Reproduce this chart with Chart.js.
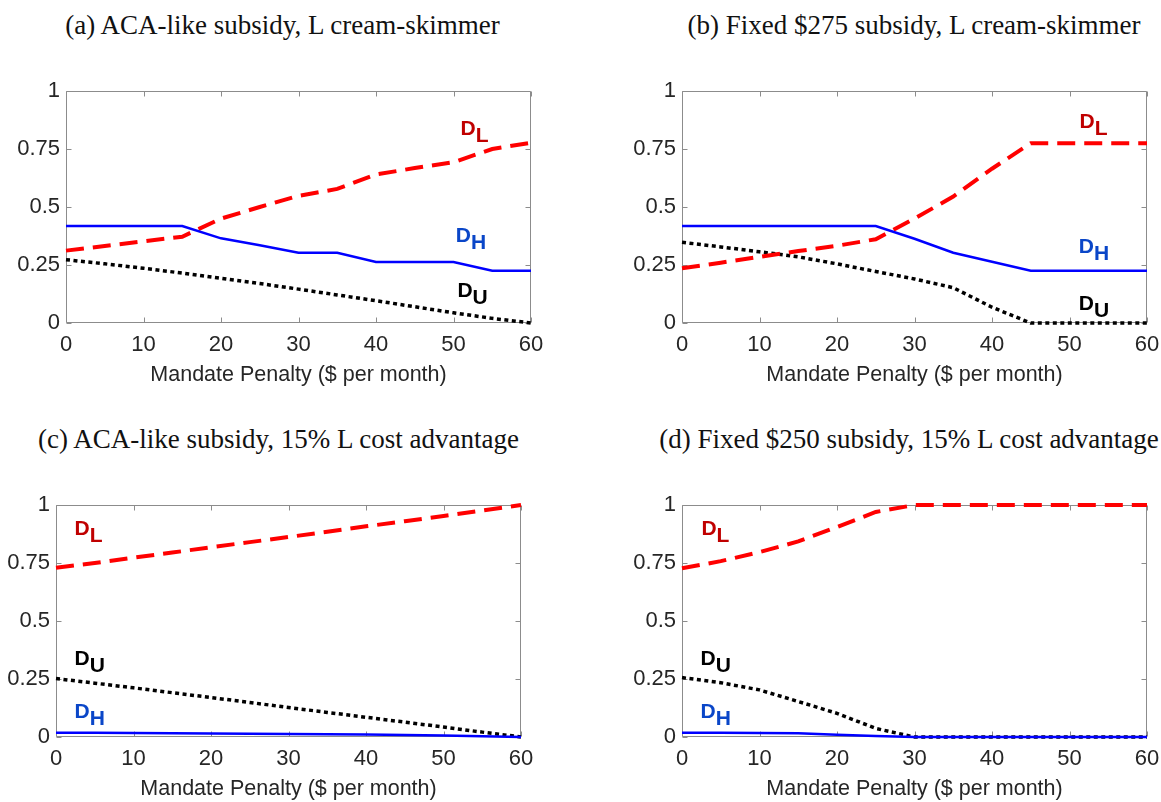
<!DOCTYPE html>
<html>
<head>
<meta charset="utf-8">
<script src="https://cdn.jsdelivr.net/npm/chart.js@4.4.0/dist/chart.umd.min.js"></script>
<style>
  html, body { margin: 0; padding: 0; background: #fff; width: 1161px; height: 802px; overflow: hidden; }
  canvas { position: absolute; }
  .ttl { position: absolute; font-family: "Liberation Serif", serif; font-size: 27px; line-height: 1;
         color: #111; white-space: nowrap; transform: translateX(-50%); }
</style>
</head>
<body>
<script>
// Mandate penalty grid ($ per month) and axis ticks
const penalty = [0, 5, 10, 15, 20, 25, 30, 35, 40, 45, 50, 55, 60];
const xTickValues = [0, 10, 20, 30, 40, 50, 60];
const yTickValues = [0, 0.25, 0.5, 0.75, 1];
const yTickText = ['0', '0.25', '0.5', '0.75', '1'];

const panelTitles = [
  '(a) ACA-like subsidy, L cream-skimmer',
  '(b) Fixed $275 subsidy, L cream-skimmer',
  '(c) ACA-like subsidy, 15% L cost advantage',
  '(d) Fixed $250 subsidy, 15% L cost advantage'
];
const xAxisTitle = 'Mandate Penalty ($ per month)';

// (a) ACA-like subsidy, L cream-skimmer
const aShareL = [0.312, 0.332, 0.352, 0.372, 0.450, 0.500, 0.548, 0.578, 0.640, 0.668, 0.693, 0.750, 0.777];
const aShareH = [0.418, 0.418, 0.418, 0.418, 0.365, 0.335, 0.303, 0.303, 0.263, 0.263, 0.263, 0.225, 0.225];
const aShareU = [0.273, 0.255, 0.236, 0.215, 0.193, 0.170, 0.146, 0.121, 0.096, 0.070, 0.044, 0.020, 0.000];

// (b) Fixed $275 subsidy, L cream-skimmer
const bShareL = [0.236, 0.260, 0.285, 0.310, 0.333, 0.361, 0.450, 0.545, 0.665, 0.775, 0.775, 0.775, 0.775];
const bShareH = [0.418, 0.418, 0.418, 0.418, 0.418, 0.418, 0.363, 0.303, 0.264, 0.225, 0.225, 0.225, 0.225];
const bShareU = [0.348, 0.328, 0.307, 0.285, 0.255, 0.222, 0.190, 0.152, 0.068, 0.000, 0.000, 0.000, 0.000];

// (c) ACA-like subsidy, 15% L cost advantage
const cShareL = [0.730, 0.750, 0.773, 0.795, 0.818, 0.840, 0.862, 0.885, 0.908, 0.930, 0.953, 0.976, 1.000];
const cShareH = [0.018, 0.018, 0.017, 0.016, 0.015, 0.014, 0.013, 0.012, 0.011, 0.009, 0.006, 0.003, 0.000];
const cShareU = [0.252, 0.232, 0.212, 0.191, 0.170, 0.149, 0.127, 0.106, 0.085, 0.064, 0.043, 0.021, 0.000];

// (d) Fixed $250 subsidy, 15% L cost advantage
const dShareL = [0.727, 0.758, 0.797, 0.843, 0.905, 0.970, 1.000, 1.000, 1.000, 1.000, 1.000, 1.000, 1.000];
const dShareH = [0.018, 0.018, 0.017, 0.016, 0.010, 0.004, 0.000, 0.000, 0.000, 0.000, 0.000, 0.000, 0.000];
const dShareU = [0.256, 0.234, 0.203, 0.153, 0.102, 0.037, 0.000, 0.000, 0.000, 0.000, 0.000, 0.000, 0.000];

const colL = '#ff0000', colH = '#0000ff', colU = '#000000';
const txtL = '#c00000', txtH = '#0a46c8', txtU = '#000000';

// Page placement of each plot box and its curve labels (label anchors in data units)
const panels = [
  { title: panelTitles[0], L: aShareL, H: aShareH, U: aShareU, left: 66, top: 91, titleX: 282.5, titleTop: 12,
    labels: [{ x: 50.9, y: 0.810, sub: 'L', color: txtL }, { x: 50.3, y: 0.349, sub: 'H', color: txtH }, { x: 50.5, y: 0.112, sub: 'U', color: txtU }] },
  { title: panelTitles[1], L: bShareL, H: bShareH, U: bShareU, left: 682, top: 91, titleX: 914, titleTop: 12,
    labels: [{ x: 51.3, y: 0.840, sub: 'L', color: txtL }, { x: 51.2, y: 0.302, sub: 'H', color: txtH }, { x: 51.2, y: 0.056, sub: 'U', color: txtU }] },
  { title: panelTitles[2], L: cShareL, H: cShareH, U: cShareU, left: 56, top: 505, titleX: 278.5, titleTop: 426,
    labels: [{ x: 2.4, y: 0.871, sub: 'L', color: txtL }, { x: 2.4, y: 0.310, sub: 'U', color: txtU }, { x: 2.4, y: 0.082, sub: 'H', color: txtH }] },
  { title: panelTitles[3], L: dShareL, H: dShareH, U: dShareU, left: 682, top: 505, titleX: 909, titleTop: 426,
    labels: [{ x: 2.5, y: 0.871, sub: 'L', color: txtL }, { x: 2.4, y: 0.310, sub: 'U', color: txtU }, { x: 2.4, y: 0.082, sub: 'H', color: txtH }] }
];

// Box around the plot area with inward tick marks on all four sides
const frame = {
  id: 'frame',
  beforeDatasetsDraw(chart) {
    const { ctx, chartArea: a, scales: { x, y } } = chart;
    const l = Math.round(a.left) + 0.5, r = Math.round(a.right) - 0.5;
    const t = Math.round(a.top) + 0.5, b = Math.round(a.bottom) - 0.5;
    const tl = 5;
    ctx.save();
    ctx.strokeStyle = '#8c8c8c';
    ctx.lineWidth = 1;
    ctx.beginPath();
    ctx.rect(l, t, r - l, b - t);
    xTickValues.forEach(v => {
      const px = Math.round(x.getPixelForValue(v)) + 0.5;
      ctx.moveTo(px, b); ctx.lineTo(px, b - tl);
      ctx.moveTo(px, t); ctx.lineTo(px, t + tl);
    });
    yTickValues.forEach(v => {
      const py = Math.round(y.getPixelForValue(v)) + 0.5;
      ctx.moveTo(l, py); ctx.lineTo(l + tl, py);
      ctx.moveTo(r, py); ctx.lineTo(r - tl, py);
    });
    ctx.stroke();
    ctx.restore();
  }
};

// Curve names D with a subscript letter
const curveLabels = {
  id: 'curveLabels',
  afterDatasetsDraw(chart, args, opts) {
    const { ctx, scales: { x, y } } = chart;
    ctx.save();
    ctx.font = 'bold 21px "Liberation Sans", Arial, sans-serif';
    ctx.textAlign = 'left';
    ctx.textBaseline = 'alphabetic';
    (opts.items || []).forEach(it => {
      const px = x.getPixelForValue(it.x), py = y.getPixelForValue(it.y);
      ctx.fillStyle = it.color;
      ctx.fillText('D', px, py);
      const w = ctx.measureText('D').width;
      ctx.fillText(it.sub, px + w, py + 7);
    });
    ctx.restore();
  }
};

const Y_AXIS_W = 66, PAD_TOP = 20, PAD_RIGHT = 40, X_AXIS_H = 70;
const PLOT_W = 465, PLOT_H = 232;

function series(vals, color, width, dash) {
  return {
    data: penalty.map((p, i) => ({ x: p, y: vals[i] })),
    borderColor: color, borderWidth: width, borderDash: dash,
    pointRadius: 0, tension: 0, fill: false, clip: false,
    borderCapStyle: 'butt', borderJoinStyle: 'miter'
  };
}

panels.forEach(p => {
  const t = document.createElement('div');
  t.className = 'ttl';
  t.textContent = p.title;
  t.style.left = p.titleX + 'px';
  t.style.top = p.titleTop + 'px';
  document.body.appendChild(t);

  const cv = document.createElement('canvas');
  cv.width = Y_AXIS_W + PLOT_W + PAD_RIGHT;
  cv.height = PAD_TOP + PLOT_H + X_AXIS_H;
  cv.style.width = cv.width + 'px';
  cv.style.height = cv.height + 'px';
  cv.style.left = (p.left - Y_AXIS_W) + 'px';
  cv.style.top = (p.top - PAD_TOP) + 'px';
  document.body.appendChild(cv);

  new Chart(cv, {
    type: 'line',
    data: {
      datasets: [
        series(p.H, colH, 2.5, []),
        series(p.L, colL, 4, [18, 9]),
        series(p.U, colU, 3.5, [4, 3.5])
      ]
    },
    options: {
      responsive: false,
      animation: false,
      devicePixelRatio: 1,
      layout: { padding: { top: PAD_TOP, right: PAD_RIGHT, left: 0, bottom: 0 } },
      plugins: {
        legend: { display: false },
        tooltip: { enabled: false },
        curveLabels: { items: p.labels }
      },
      scales: {
        x: {
          type: 'linear', min: 0, max: 60,
          afterBuildTicks: s => { s.ticks = xTickValues.map(v => ({ value: v })); },
          grid: { display: false, drawTicks: false },
          border: { display: false },
          ticks: { font: { family: '"Liberation Sans", Arial, sans-serif', size: 22 }, color: '#262626',
                   padding: 9, maxRotation: 0, autoSkip: false },
          title: { display: true, text: xAxisTitle, color: '#262626',
                   font: { family: '"Liberation Sans", Arial, sans-serif', size: 21.5, lineHeight: 1 },
                   padding: { top: 0, bottom: 7 } },
          afterFit: s => { s.height = X_AXIS_H; }
        },
        y: {
          type: 'linear', min: 0, max: 1,
          afterBuildTicks: s => { s.ticks = yTickValues.map(v => ({ value: v })); },
          grid: { display: false, drawTicks: false },
          border: { display: false },
          ticks: { font: { family: '"Liberation Sans", Arial, sans-serif', size: 22 }, color: '#262626',
                   padding: 6, autoSkip: false, callback: (v, i) => yTickText[i] },
          afterFit: s => { s.width = Y_AXIS_W; }
        }
      }
    },
    plugins: [frame, curveLabels]
  });
});
</script>
</body>
</html>
